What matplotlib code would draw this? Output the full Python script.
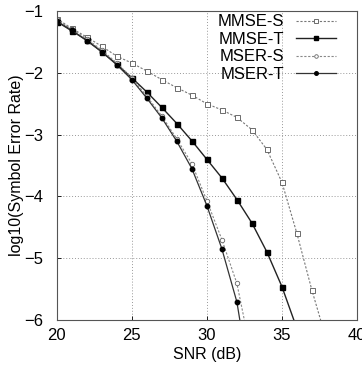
import matplotlib
matplotlib.use("Agg")
import matplotlib.pyplot as plt

plt.rcParams['font.family'] = ['Liberation Sans', 'DejaVu Sans']

# SNR values (dB) for each curve
snr_mmse_s = [20, 21, 22, 23, 24, 25, 26, 27, 28, 29, 30, 31, 32, 33, 34, 35, 36, 37, 38]
ser_mmse_s = [-1.12, -1.28, -1.42, -1.57, -1.73, -1.84, -1.97, -2.11, -2.24, -2.36,
              -2.50, -2.60, -2.72, -2.92, -3.24, -3.77, -4.60, -5.52, -6.35]

snr_mmse_t = [20, 21, 22, 23, 24, 25, 26, 27, 28, 29, 30, 31, 32, 33, 34, 35, 36]
ser_mmse_t = [-1.17, -1.32, -1.47, -1.66, -1.86, -2.08, -2.31, -2.56, -2.82, -3.10,
              -3.40, -3.70, -4.05, -4.43, -4.90, -5.46, -6.14]

snr_mser_s = [20, 21, 22, 23, 24, 25, 26, 27, 28, 29, 30, 31, 32, 33]
ser_mser_s = [-1.13, -1.29, -1.45, -1.63, -1.84, -2.08, -2.38, -2.70, -3.07, -3.47,
              -4.07, -4.70, -5.41, -6.60]

snr_mser_t = [20, 21, 22, 23, 24, 25, 26, 27, 28, 29, 30, 31, 32, 33]
ser_mser_t = [-1.16, -1.31, -1.48, -1.66, -1.87, -2.11, -2.41, -2.73, -3.11, -3.55,
              -4.15, -4.85, -5.71, -7.20]

fig = plt.figure(figsize=(3.62, 3.72), dpi=100)
ax = fig.add_axes([0.157, 0.140, 0.829, 0.830])

ax.plot(snr_mmse_s, ser_mmse_s, color='#777777', ls=(0, (2, 1.5)), lw=0.8,
        marker='s', ms=3.6, mfc='white', mec='#555555', mew=0.6, label='MMSE-S')
ax.plot(snr_mmse_t, ser_mmse_t, color='#222222', ls='-', lw=1.0,
        marker='s', ms=3.6, mfc='black', mec='black', label='MMSE-T')
ax.plot(snr_mser_s, ser_mser_s, color='#888888', ls=(0, (2, 1.5)), lw=0.8,
        marker='o', ms=3.2, mfc='white', mec='#666666', mew=0.6, label='MSER-S')
ax.plot(snr_mser_t, ser_mser_t, color='#333333', ls='-', lw=0.9,
        marker='o', ms=3.2, mfc='black', mec='black', label='MSER-T')

ax.set_xlim(20, 40)
ax.set_ylim(-6, -1)
ax.set_xticks([20, 25, 30, 35, 40])
ax.set_yticks([-6, -5, -4, -3, -2, -1])
ax.grid(True, color='#999999', ls=(0, (1, 2)), lw=0.7)
ax.tick_params(direction='in', labelsize=12, length=3, width=0.6)
ax.tick_params(axis='y', pad=10)
ax.tick_params(axis='x', pad=6)
for s in ax.spines.values():
    s.set_linewidth(0.8)
    s.set_color('#555555')

ax.set_xlabel('SNR (dB)', fontsize=11.5, labelpad=3)
ax.set_ylabel('log10(Symbol Error Rate)', fontsize=11.5, labelpad=0)

ax.legend(loc='upper right', frameon=False, markerfirst=False, fontsize=12,
          handlelength=2.4, labelspacing=0.15, borderaxespad=0.1, borderpad=0.1,
          handletextpad=0.7, bbox_to_anchor=(0.94, 1.0), markerscale=0.8)

fig.savefig('out.png', dpi=100)
